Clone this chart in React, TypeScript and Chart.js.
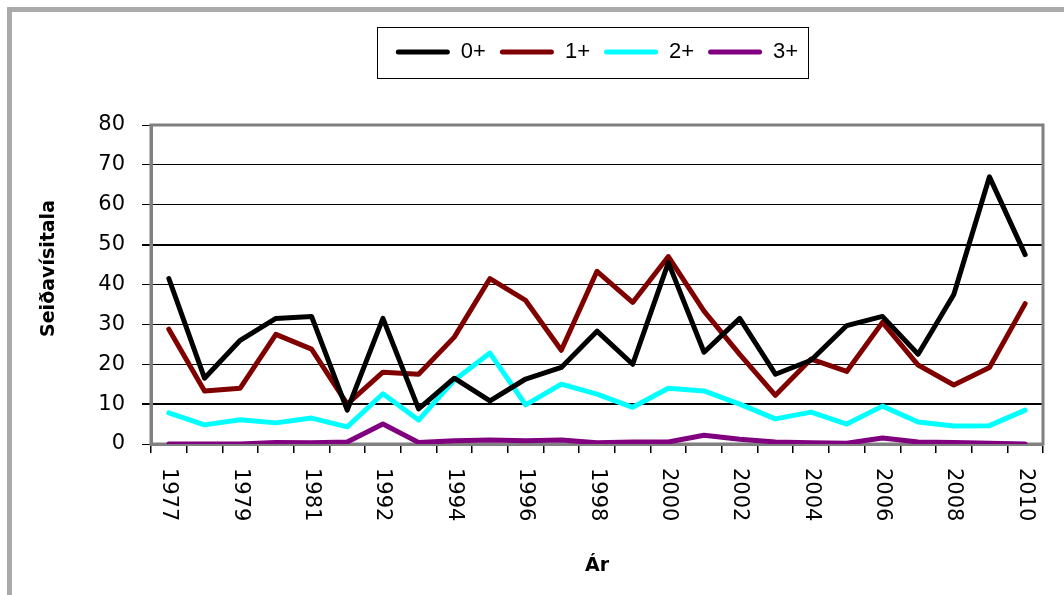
import { useEffect, useRef } from 'react'
import { Chart, registerables } from 'chart.js'
import type { Plugin } from 'chart.js'

Chart.register(...registerables)

const years = [
  '1977', '1978', '1979', '1980', '1981', '1991', '1992', '1993', '1994', '1995',
  '1996', '1997', '1998', '1999', '2000', '2001', '2002', '2003', '2004', '2005',
  '2006', '2007', '2008', '2009', '2010',
]

const zeroPlus = [
  41.5, 16.5, 26, 31.5, 32, 8.5, 31.5, 8.8, 16.5, 10.8,
  16.3, 19.2, 28.3, 20, 45.5, 23, 31.5, 17.5, 21, 29.7,
  32, 22.5, 37.5, 67, 47.5,
]
const onePlus = [
  28.8, 13.3, 14, 27.5, 23.8, 10, 18, 17.5, 26.8, 41.5,
  36, 23.5, 43.3, 35.5, 47, 33.3, 22.5, 12.2, 21.3, 18.2,
  30.5, 19.8, 14.8, 19.2, 35.2,
]
const twoPlus = [
  7.8, 4.8, 6.1, 5.3, 6.5, 4.3, 12.6, 6, 16, 22.8,
  9.8, 15, 12.5, 9.2, 14, 13.3, 10, 6.3, 8, 5,
  9.5, 5.5, 4.5, 4.6, 8.5,
]
const threePlus = [
  0, 0, 0, 0.4, 0.3, 0.5, 5, 0.4, 0.8, 1,
  0.8, 1, 0.3, 0.5, 0.5, 2.2, 1.2, 0.5, 0.3, 0.2,
  1.5, 0.5, 0.4, 0.2, 0,
]

const seriesNames = ['0+', '1+', '2+', '3+']
const seriesColors = ['#000000', '#800000', '#00ffff', '#800080']
const yTicks = [0, 10, 20, 30, 40, 50, 60, 70, 80]

const FONT = 'DejaVu Sans'

// grey frame round the plot area, drawn under the lines
const plotFrame: Plugin<'line'> = {
  id: 'plotFrame',
  beforeDatasetsDraw(chart) {
    const { ctx, chartArea } = chart
    ctx.save()
    ctx.strokeStyle = '#808080'
    ctx.lineWidth = 3
    ctx.strokeRect(chartArea.left, chartArea.top, chartArea.width, chartArea.height)
    ctx.restore()
  },
}

// box round the legend items
const legendFrame: Plugin<'line'> = {
  id: 'legendFrame',
  afterDraw(chart) {
    const boxes = chart.legend?.legendHitBoxes
    if (!boxes || !boxes.length) return
    const first = boxes[0]
    const last = boxes[boxes.length - 1]
    const { ctx } = chart
    ctx.save()
    ctx.strokeStyle = '#000'
    ctx.lineWidth = 1
    const x1 = Math.round(first.left - 19) + 0.5
    const x2 = Math.round(last.left + last.width + 10) + 0.5
    const y1 = Math.round(first.top - 14.5) + 0.5
    const y2 = Math.round(first.top + first.height + 14.5) + 0.5
    ctx.strokeRect(x1, y1, x2 - x1, y2 - y1)
    ctx.restore()
  },
}

// x labels read top to bottom, and the y title sits a little above centre
const axisText: Plugin<'line'> = {
  id: 'axisText',
  afterDraw(chart) {
    const { ctx, chartArea } = chart
    const x = chart.scales.x
    const y = chart.scales.y
    ctx.save()
    ctx.fillStyle = '#000'
    ctx.font = `21px "${FONT}"`
    ctx.textAlign = 'left'
    ctx.textBaseline = 'middle'
    x.ticks.forEach((tick, i) => {
      if (!tick.label) return
      ctx.save()
      ctx.translate(x.getPixelForTick(i), x.top + 24)
      ctx.rotate(Math.PI / 2)
      ctx.fillText(String(tick.label), 0, 0)
      ctx.restore()
    })
    ctx.font = `bold 19px "${FONT}"`
    ctx.textAlign = 'center'
    ctx.translate(y.left + 49, (chartArea.top + chartArea.bottom) / 2 - 16)
    ctx.rotate(-Math.PI / 2)
    ctx.fillText('Seiðavísitala', 0, 0)
    ctx.restore()
  },
}

export default function App() {
  const canvasRef = useRef<HTMLCanvasElement>(null)

  useEffect(() => {
    if (!canvasRef.current) return
    const values = [zeroPlus, onePlus, twoPlus, threePlus]
    const chart = new Chart(canvasRef.current, {
      type: 'line',
      data: {
        labels: years,
        datasets: values.map((data, i) => ({
          label: seriesNames[i],
          data,
          borderColor: seriesColors[i],
          backgroundColor: seriesColors[i],
          borderWidth: 5,
          borderJoinStyle: 'round' as const,
          borderCapStyle: 'round' as const,
          pointRadius: 0,
          tension: 0,
        })),
      },
      options: {
        responsive: false,
        animation: false,
        events: [],
        layout: { padding: { left: 0, top: 27, right: 21, bottom: 0 } },
        plugins: {
          tooltip: { enabled: false },
          legend: {
            position: 'top',
            fullSize: false,
            labels: {
              boxWidth: 54,
              boxHeight: 5,
              padding: 14,
              color: '#000',
              font: { family: 'Liberation Sans', size: 22 },
              useBorderRadius: true,
              borderRadius: 2.5,
              generateLabels: (c) =>
                Chart.defaults.plugins.legend.labels
                  .generateLabels(c)
                  .map((item) => ({ ...item, lineWidth: 0 })),
            },
          },
          // empty title used as the gap between legend and plot
          title: {
            display: true,
            text: '',
            fullSize: false,
            weight: 100,
            font: { size: 10, lineHeight: 1 },
            padding: { top: 0, bottom: 42 },
          },
        },
        scales: {
          x: {
            offset: true,
            grid: {
              offset: true,
              drawOnChartArea: false,
              drawTicks: true,
              tickLength: 9,
              color: '#000',
              tickColor: '#000',
              lineWidth: 1.5,
            },
            border: { display: true, color: '#808080', width: 3 },
            ticks: {
              display: false,
              autoSkip: false,
              callback: (_v, i) => (i % 2 === 0 ? years[i] : ''),
            },
            title: {
              display: true,
              text: 'Ár',
              color: '#000',
              font: { family: FONT, size: 19, weight: 'bold' },
              padding: { top: 0, bottom: 18 },
            },
            afterFit: (scale) => {
              scale.height = 151
            },
          },
          y: {
            min: yTicks[0],
            max: yTicks[yTicks.length - 1],
            afterBuildTicks: (scale) => {
              scale.ticks = yTicks.map((value) => ({ value }))
            },
            grid: {
              color: '#000',
              tickColor: '#000',
              tickLength: 9,
              lineWidth: (ctx) =>
                ctx.tick && (ctx.tick.value === 10 || ctx.tick.value === 50) ? 2 : 1,
            },
            border: { display: true, color: '#808080', width: 3 },
            ticks: {
              color: '#000',
              padding: 17,
              font: { family: FONT, size: 21 },
            },
            afterFit: (scale) => {
              scale.width = 151
            },
          },
        },
      },
      plugins: [plotFrame, legendFrame, axisText],
    })
    return () => chart.destroy()
  }, [])

  return (
    <div
      style={{
        position: 'fixed',
        left: 0,
        top: 0,
        width: 1064,
        height: 595,
        background: '#fff',
        overflow: 'hidden',
      }}
    >
      <canvas ref={canvasRef} width={1064} height={595} style={{ display: 'block' }} />
      <div
        style={{
          position: 'absolute',
          left: 7,
          top: 7,
          width: 1200,
          height: 700,
          borderTop: '5px solid #aaaaaa',
          borderLeft: '5px solid #aaaaaa',
          pointerEvents: 'none',
        }}
      />
    </div>
  )
}
